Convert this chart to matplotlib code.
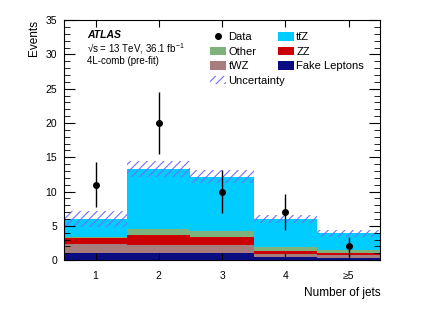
import matplotlib.pyplot as plt
from matplotlib.patches import Patch
from matplotlib.lines import Line2D
from matplotlib.ticker import MultipleLocator

plt.rcParams['font.family'] = ['Liberation Sans', 'DejaVu Sans']
plt.rcParams['mathtext.fontset'] = 'custom'
plt.rcParams['mathtext.rm'] = 'Liberation Sans'
plt.rcParams['mathtext.it'] = 'Liberation Sans:italic'
plt.rcParams['hatch.linewidth'] = 0.8

# data
bins = [1, 2, 3, 4, 5]
bin_labels = ['1', '2', '3', '4', '≥5']
fake = [1.1, 1.05, 1.1, 0.45, 0.35]
twz = [1.3, 1.2, 1.15, 0.42, 0.33]
zz = [0.75, 1.4, 1.1, 0.48, 0.3]
other = [0.25, 0.9, 0.85, 0.5, 0.48]
ttz = [2.6, 8.75, 7.95, 4.1, 2.45]
unc = [1.2, 1.2, 0.95, 0.6, 0.55]
data = [11, 20, 10, 7, 2]
data_err = [3.3, 4.5, 3.2, 2.6, 1.4]

colors = ['#0c0c82', '#a67c7c', '#cc0000', '#7db27d', '#00ccff']
stack = [fake, twz, zz, other, ttz]
hatch_col = '#7070ff'

fig, ax = plt.subplots(figsize=(4.32, 3.10), dpi=100)
fig.subplots_adjust(left=0.148, right=0.88, bottom=0.161, top=0.935)

bottom = [0.0] * len(bins)
for vals, col in zip(stack, colors):
    ax.bar(bins, vals, width=1.0, bottom=bottom, color=col, linewidth=0)
    bottom = [b + v for b, v in zip(bottom, vals)]
total = bottom

# uncertainty band around the total
ax.bar(bins, [2 * u for u in unc], width=1.0,
       bottom=[t - u for t, u in zip(total, unc)],
       fill=False, hatch='////', edgecolor=hatch_col, linewidth=0)

ax.errorbar(bins, data, yerr=data_err, fmt='o', color='black',
            markersize=4, elinewidth=1, capsize=0)

ax.set_xlim(0.5, 5.5)
ax.set_ylim(0, 35)
ax.set_xticks(bins)
ax.set_xticklabels(bin_labels)
ax.yaxis.set_major_locator(MultipleLocator(5))
ax.yaxis.set_minor_locator(MultipleLocator(1))
ax.tick_params(direction='in', top=True, right=True, labelsize=7.5)
ax.tick_params(axis='x', which='major', length=5, pad=8)
ax.tick_params(axis='y', which='major', length=8, pad=5)
ax.tick_params(axis='y', which='minor', direction='in', right=True, length=4)

ax.set_xlabel('Number of jets', fontsize=8.5, loc='right')
ax.set_ylabel('Events', fontsize=8.5, loc='top')

ax.text(0.073, 0.958, 'ATLAS', transform=ax.transAxes, fontsize=7.5,
        fontweight='bold', fontstyle='italic', va='top')
ax.text(0.073, 0.912, '√s = 13 TeV, 36.1 fb$^{-1}$',
        transform=ax.transAxes, fontsize=7, va='top')
ax.text(0.073, 0.852, '4L-comb (pre-fit)', transform=ax.transAxes,
        fontsize=7, va='top')

handles = [
    Line2D([], [], marker='o', color='black', linestyle='none', markersize=4),
    Patch(facecolor=colors[3]),
    Patch(facecolor=colors[1]),
    Patch(fill=False, hatch='////', edgecolor=hatch_col, linewidth=0),
    Patch(facecolor=colors[4]),
    Patch(facecolor=colors[2]),
    Patch(facecolor=colors[0]),
]
labels = ['Data', 'Other', 'tWZ', 'Uncertainty', 'tt\u0304Z', 'ZZ', 'Fake Leptons']
ax.legend(handles, labels, ncol=2, loc='upper left', bbox_to_anchor=(0.462, 0.95),
          frameon=False, fontsize=8, handlelength=1.45, handleheight=0.8,
          handletextpad=0.2, columnspacing=-0.65, labelspacing=0.4,
          borderpad=0, borderaxespad=0)

fig.savefig('out.png', dpi=100)
